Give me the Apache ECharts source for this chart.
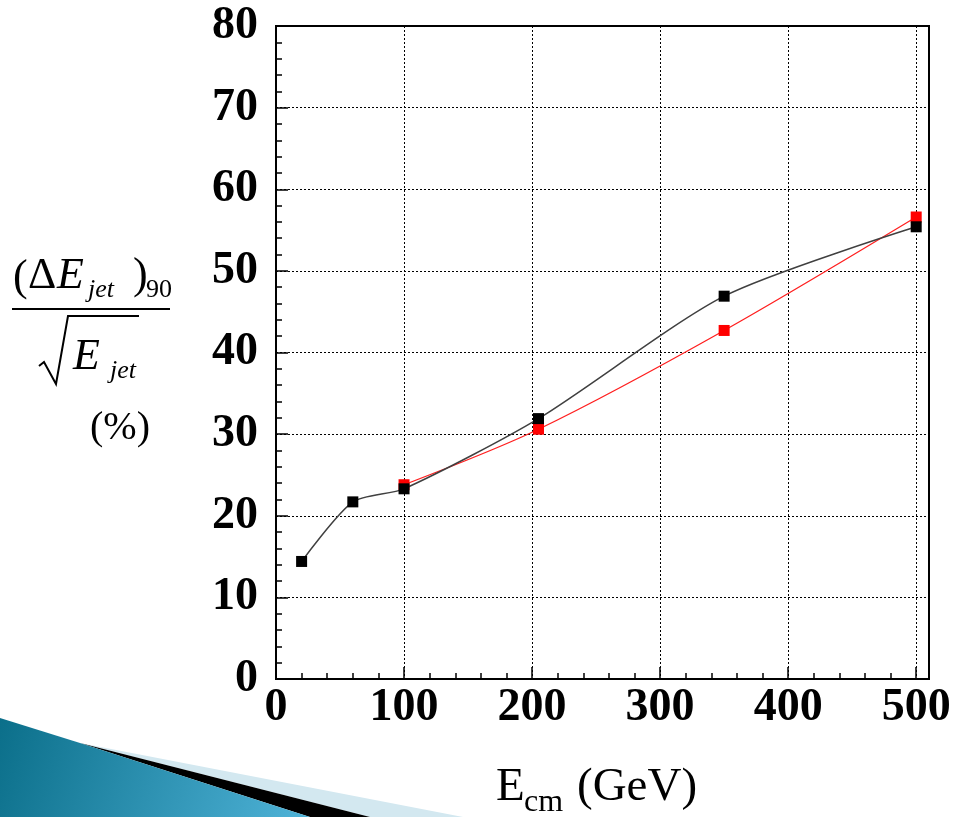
<!DOCTYPE html>
<html>
<head>
<meta charset="utf-8">
<script src="https://cdn.jsdelivr.net/npm/echarts@6/dist/echarts.min.js"></script>
<style>
html,body{margin:0;padding:0;background:#fff;}
#chart{width:955px;height:817px;}
</style>
</head>
<body>
<div id="chart"></div>
<script>
// ---- data ----
const ecmBlack = [20, 60, 100, 205, 350, 500];
const resBlack = [14.4, 21.7, 23.3, 31.9, 46.9, 55.4];
const ecmRed = [100, 205, 350, 500];
const resRed = [23.8, 30.6, 42.7, 56.6];
const xTicks = [0, 100, 200, 300, 400, 500];
const yTicks = [0, 10, 20, 30, 40, 50, 60, 70, 80];
const xMax = 510;

const SERIF = '"Liberation Serif", "Times New Roman", serif';

const chart = echarts.init(document.getElementById('chart'), null, {renderer: 'canvas'});

// text placed by its baseline
function T(text, x, baseline, size, opts) {
  opts = opts || {};
  return {
    type: 'text', x: x, y: baseline - 0.82 * size, z: 10,
    style: {
      text: text,
      fill: '#000',
      font: (opts.italic ? 'italic ' : '') + (opts.bold ? 'bold ' : '') + size + 'px ' + SERIF,
      textAlign: 'left',
      verticalAlign: 'top'
    }
  };
}

const option = {
  backgroundColor: '#fff',
  animation: false,
  grid: {
    left: 276, right: 26, top: 26, bottom: 138,
    show: true, borderColor: '#000', borderWidth: 2, backgroundColor: 'transparent'
  },
  xAxis: [
    {
      type: 'value', min: xTicks[0], max: xMax, interval: xTicks[1] - xTicks[0],
      position: 'bottom',
      axisLine: {show: true, onZero: false, lineStyle: {color: '#000', width: 2}},
      axisTick: {show: true, inside: true, length: 12, lineStyle: {color: '#000', width: 1.5}},
      axisLabel: {
        show: true, margin: 6, showMaxLabel: false,
        color: '#000', fontFamily: SERIF, fontWeight: 'bold', fontSize: 46
      },
      splitLine: {show: true, lineStyle: {color: '#000', width: 1, type: [2, 2]}}
    },
    {
      type: 'value', min: xTicks[0], max: xMax, interval: (xTicks[1] - xTicks[0]) / 5,
      position: 'bottom',
      axisLine: {show: false},
      axisTick: {show: true, inside: true, length: 6, lineStyle: {color: '#000', width: 1.5}},
      axisLabel: {show: false},
      splitLine: {show: false}
    }
  ],
  yAxis: {
    type: 'value', min: yTicks[0], max: yTicks[yTicks.length - 1], interval: yTicks[1] - yTicks[0],
    axisLine: {show: true, onZero: false, lineStyle: {color: '#000', width: 2}},
    axisTick: {show: true, inside: true, length: 12, lineStyle: {color: '#000', width: 1.5}},
    minorTick: {show: true, splitNumber: 5, length: 6, lineStyle: {color: '#000', width: 1.5}},
    axisLabel: {
      show: true, margin: 18,
      color: '#000', fontFamily: SERIF, fontWeight: 'bold', fontSize: 46
    },
    splitLine: {show: true, lineStyle: {color: '#000', width: 1, type: [2, 2]}}
  },
  series: [
    {
      type: 'line', name: 'red',
      data: ecmRed.map((x, i) => [x, resRed[i]]),
      smooth: 0.3,
      symbol: 'rect', symbolSize: 11,
      lineStyle: {color: '#ff2020', width: 1.3},
      itemStyle: {color: '#ff0000'},
      z: 3
    },
    {
      type: 'line', name: 'black',
      data: ecmBlack.map((x, i) => [x, resBlack[i]]),
      smooth: 0.25,
      symbol: 'rect', symbolSize: 11,
      lineStyle: {color: '#404040', width: 1.5},
      itemStyle: {color: '#000'},
      z: 4
    }
  ],
  graphic: [
    // decorative slide wedge (bottom-left)
    {
      type: 'polygon', z: 1,
      shape: {points: [[80, 743], [463, 817], [370, 817]]},
      style: {fill: '#d3e8f0'}
    },
    {
      type: 'polygon', z: 1,
      shape: {points: [[80, 743], [370, 817], [310, 817]]},
      style: {fill: '#000'}
    },
    {
      type: 'polygon', z: 1,
      shape: {points: [[0, 718], [80, 743], [310, 817], [0, 817]]},
      style: {
        fill: new echarts.graphic.LinearGradient(0, 0, 1, 1, [
          {offset: 0, color: '#0b6f8a'},
          {offset: 1, color: '#4fb3d8'}
        ])
      }
    },
    // y-axis title: fraction
    T('(', 13, 293, 44),
    T('\u0394', 28, 291, 44),
    T('E', 57, 291, 44, {italic: true}),
    T('jet', 88, 298, 26, {italic: true}),
    T(')', 133, 291, 44),
    T('90', 146, 298, 26),
    {
      type: 'line', z: 10,
      shape: {x1: 12, y1: 309, x2: 170, y2: 309},
      style: {stroke: '#000', lineWidth: 2}
    },
    {
      type: 'polyline', z: 10,
      shape: {points: [[39, 366], [44, 362], [56, 384], [68, 316], [139, 316]]},
      style: {stroke: '#000', lineWidth: 2, fill: null}
    },
    T('E', 73, 372, 44, {italic: true}),
    T('jet', 110, 379, 26, {italic: true}),
    T('(%)', 90, 441, 40),
    // x-axis title
    T('E', 496, 803, 47),
    T('cm', 524, 813, 32),
    T('(GeV)', 577, 803, 47)
  ]
};

chart.setOption(option);
</script>
</body>
</html>
